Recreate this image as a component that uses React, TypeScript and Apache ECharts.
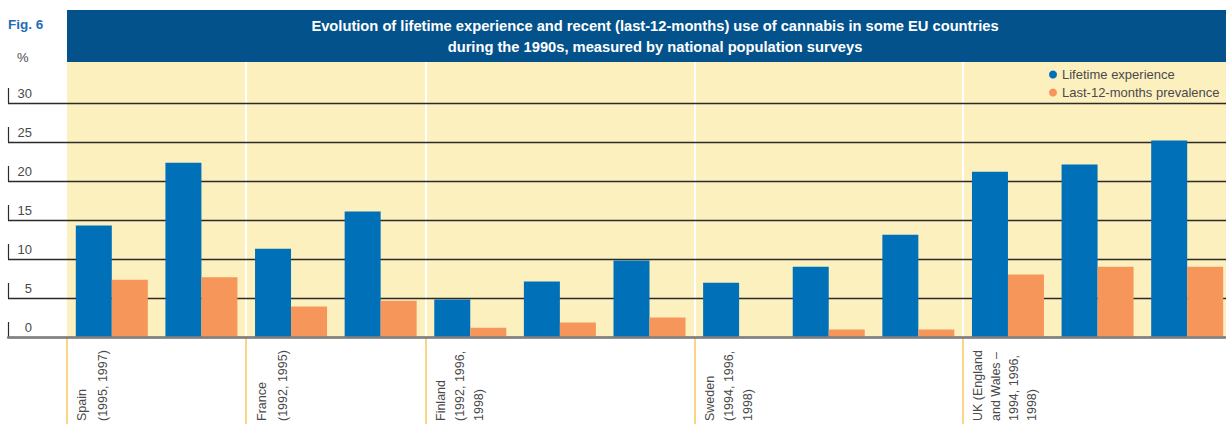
import React, { useEffect, useRef } from "react";
import * as echarts from "echarts";

const categories = [
  "Spain 1995", "Spain 1997",
  "France 1992", "France 1995",
  "Finland 1992", "Finland 1996", "Finland 1998",
  "Sweden 1994", "Sweden 1996", "Sweden 1998",
  "UK 1994", "UK 1996", "UK 1998",
];
const lifetime = [14.3, 22.35, 11.3, 16.1, 4.8, 7.1, 9.8, 6.95, 9.0, 13.1, 21.2, 22.1, 25.2];
const last12 = [7.35, 7.65, 3.9, 4.65, 1.2, 1.85, 2.5, null, 0.95, 0.95, 8.0, 9.0, 9.0];
const seriesNames = ["Lifetime experience", "Last-12-months prevalence"];
const yTicks = [0, 5, 10, 15, 20, 25, 30];
const groupLabels = [
  "Spain\n(1995, 1997)",
  "France\n(1992, 1995)",
  "Finland\n(1992, 1996,\n1998)",
  "Sweden\n(1994, 1996,\n1998)",
  "UK (England\nand Wales –\n1994, 1996,\n1998)",
];
const groupStart = [0, 2, 4, 7, 10];
const whiteSeparators = [2, 4, 7, 10];
const titleText =
  "Evolution of lifetime experience and recent (last-12-months) use of cannabis in some EU countries\nduring the 1990s, measured by national population surveys";

const FONT = '"Liberation Sans", Arial, sans-serif';
const BLUE = "#0070b8";
const ORANGE = "#f6965a";
const TEXT = "#4a4a4a";
const labelLineHeights = [21, 21, 19, 19, 18];

export default function App() {
  const ref = useRef<HTMLDivElement>(null);

  useEffect(() => {
    const chart = echarts.init(ref.current!, null, { renderer: "svg" });
    const option: any = {
      animation: false,
      backgroundColor: "#ffffff",
      textStyle: { fontFamily: FONT },
      title: {
        text: titleText,
        left: 650,
        top: 10,
        textAlign: "center",
        textStyle: { color: "#ffffff", fontWeight: "bold", fontSize: 14.7, lineHeight: 21, fontFamily: FONT },
      },
      legend: {
        data: seriesNames,
        left: 1044,
        top: 62,
        orient: "vertical",
        icon: "circle",
        itemWidth: 8,
        itemHeight: 8,
        itemGap: 3,
        textStyle: { fontSize: 13, color: TEXT, lineHeight: 15, fontFamily: FONT },
      },
      grid: [
        { left: 8, top: 103, right: 0, height: 234, outerBoundsMode: "none", containLabel: false },
        { left: 67, top: 103, right: -6, height: 234, outerBoundsMode: "none", containLabel: false },
      ],
      xAxis: [
        {
          gridIndex: 0, type: "value", min: 0, max: 1, z: 5,
          axisLine: { show: true, lineStyle: { color: "#808080", width: 2.5 } },
          axisTick: { show: false }, axisLabel: { show: false }, splitLine: { show: false },
        },
        {
          gridIndex: 1, type: "category", data: categories,
          axisLine: { show: false }, axisLabel: { show: false },
          axisTick: {
            show: true, length: 87,
            interval: (i: number) => groupStart.includes(i),
            lineStyle: { color: "#fbd585", width: 2 },
          },
          splitLine: {
            show: true,
            interval: (i: number) => whiteSeparators.includes(i),
            lineStyle: { color: "#ffffff", width: 2 },
          },
        },
        {
          gridIndex: 1, type: "category", data: categories, position: "top",
          axisLine: { show: false }, axisLabel: { show: false }, splitLine: { show: false },
          axisTick: {
            show: true, length: 41,
            interval: (i: number) => whiteSeparators.includes(i),
            lineStyle: { color: "#ffffff", width: 2 },
          },
        },
      ],
      yAxis: [
        {
          gridIndex: 0, type: "value", min: 0, max: 30, interval: 5, z: 1,
          axisLine: { show: false }, axisTick: { show: false },
          axisLabel: {
            inside: true, align: "right", margin: 24, verticalAlign: "bottom",
            padding: [0, 0, 3, 0], fontSize: 13, color: TEXT, fontFamily: FONT,
          },
          splitLine: { show: true, lineStyle: { color: "#2b2b2b", width: 1.3 } },
        },
        { gridIndex: 1, type: "value", min: 0, max: 30, interval: 5, show: false },
      ],
      series: [
        {
          name: seriesNames[0], type: "bar", xAxisIndex: 1, yAxisIndex: 1,
          data: lifetime, barWidth: 36, barGap: "0%", itemStyle: { color: BLUE },
        },
        {
          name: seriesNames[1], type: "bar", xAxisIndex: 1, yAxisIndex: 1,
          data: last12, barWidth: 36, barGap: "0%", itemStyle: { color: ORANGE },
        },
      ],
    };
    chart.setOption(option);

    const graphics: any[] = [
      { type: "rect", z: -1, shape: { x: 67, y: 62, width: 1159, height: 275 }, style: { fill: "#fdf0bf" } },
      { type: "rect", z: -1, shape: { x: 67, y: 10, width: 1159, height: 52 }, style: { fill: "#03528c" } },
      {
        type: "text", x: 8, y: 17,
        style: { text: "Fig. 6", fill: "#1d6db5", fontSize: 13.5, fontWeight: "bold", fontFamily: FONT, align: "left", verticalAlign: "top" },
      },
      {
        type: "text", x: 17, y: 51,
        style: { text: "%", fill: TEXT, fontSize: 13, fontFamily: FONT, align: "left", verticalAlign: "top" },
      },
    ];
    yTicks.forEach((v) => {
      const y = chart.convertToPixel({ yAxisIndex: 0 }, v) as number;
      graphics.push({
        type: "line",
        shape: { x1: 8.5, y1: y - 15, x2: 8.5, y2: y },
        style: { stroke: "#2b2b2b", lineWidth: 1.2 },
      });
    });
    groupStart.forEach((ci, gi) => {
      const cx = chart.convertToPixel({ xAxisIndex: 1 }, categories[ci]) as number;
      const lh = labelLineHeights[gi];
      graphics.push({
        type: "text",
        x: cx - 37 - (lh - 15) / 2,
        y: 421,
        rotation: Math.PI / 2,
        z: 10,
        style: {
          text: groupLabels[gi], fill: TEXT, fontSize: 12.5, lineHeight: lh, fontFamily: FONT,
          align: "left", verticalAlign: "top",
        },
      });
    });
    chart.setOption({ graphic: graphics });

    return () => chart.dispose();
  }, []);

  return (
    <div
      ref={ref}
      style={{ position: "fixed", left: 0, top: 0, width: 1226, height: 424 }}
    />
  );
}
